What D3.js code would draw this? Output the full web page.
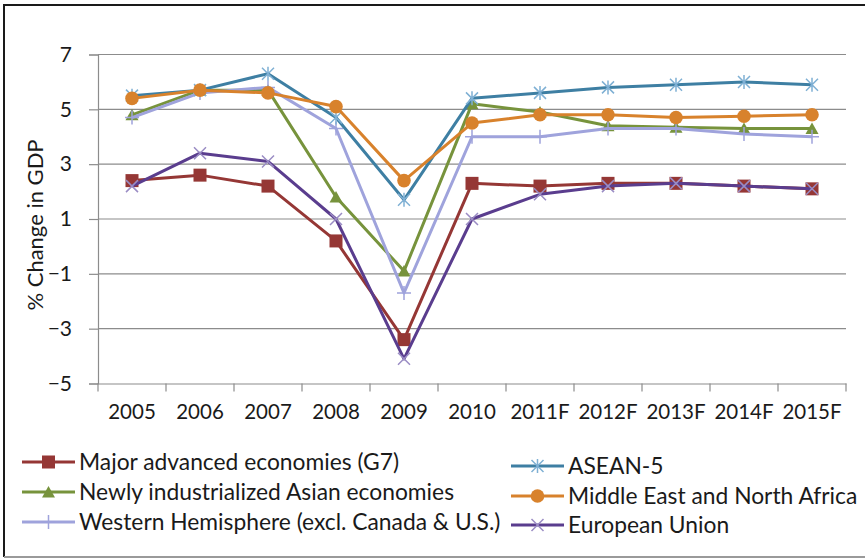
<!DOCTYPE html>
<html><head><meta charset="utf-8">
<script src="https://cdn.jsdelivr.net/npm/d3@7"></script>
<style>
html,body{margin:0;padding:0;background:#fff;}
svg{display:block;font-family:Lato,"Open Sans",sans-serif;}
</style></head>
<body><svg id="c" width="865" height="558"></svg>
<script>
const categories = ["2005","2006","2007","2008","2009","2010","2011F","2012F","2013F","2014F","2015F"];
const yTicks = [-5,-3,-1,1,3,5,7];
const seriesNames = ["Major advanced economies (G7)","Newly industrialized Asian economies","Western Hemisphere (excl. Canada & U.S.)","ASEAN-5","Middle East and North Africa","European Union"];
const g7   = [2.4, 2.6, 2.2, 0.2, -3.4, 2.3, 2.2, 2.3, 2.3, 2.2, 2.1];
const nie  = [4.8, 5.7, 5.7, 1.8, -0.9, 5.2, 4.9, 4.4, 4.35, 4.3, 4.3];
const wh   = [4.7, 5.6, 5.8, 4.3, -1.7, 4.0, 4.0, 4.3, 4.3, 4.1, 4.0];
const asean= [5.5, 5.7, 6.3, 4.7, 1.7, 5.4, 5.6, 5.8, 5.9, 6.0, 5.9];
const mena = [5.4, 5.7, 5.6, 5.1, 2.4, 4.5, 4.8, 4.8, 4.7, 4.75, 4.8];
const eu   = [2.2, 3.4, 3.1, 1.0, -4.1, 1.0, 1.9, 2.2, 2.3, 2.2, 2.1];
const yTitle = "% Change in GDP";

const svg = d3.select("#c");
const L = 98, R = 846, T = 54.5, B = 383.5;
const x = d3.scaleBand().domain(categories).range([L, R]);
const y = d3.scaleLinear().domain([-5, 7]).range([B, T]);

// outer border
svg.append("line").attr("x1",4).attr("x2",865).attr("y1",5).attr("y2",5).attr("stroke","#1a1a1a").attr("stroke-width",2);
svg.append("line").attr("x1",4).attr("x2",4).attr("y1",4).attr("y2",557).attr("stroke","#1a1a1a").attr("stroke-width",2);
svg.append("line").attr("x1",4).attr("x2",865).attr("y1",557).attr("y2",557).attr("stroke","#9a9a9a").attr("stroke-width",2);

// gridlines
svg.append("g").selectAll("line").data(yTicks.filter(d=>d>-5)).join("line")
  .attr("x1",L).attr("x2",R).attr("y1",d=>y(d)).attr("y2",d=>y(d))
  .attr("stroke","#8c8c8c").attr("stroke-width",1.2);

// y axis
const ya = svg.append("g").attr("transform",`translate(${L},0)`)
  .call(d3.axisLeft(y).tickValues(yTicks).tickSize(9).tickPadding(17).tickFormat(d3.format("d")));
ya.select(".domain").attr("stroke","#8c8c8c").attr("stroke-width",1.2);
ya.selectAll(".tick line").attr("stroke","#8c8c8c").attr("stroke-width",1.2);
ya.selectAll("text").attr("font-size",21).attr("fill","#1a1a1a").attr("font-family","Lato");

// x axis
const xa = svg.append("g").attr("transform",`translate(0,${B})`)
  .call(d3.axisBottom(x).tickSize(0).tickPadding(21));
xa.select(".domain").attr("stroke","#8c8c8c").attr("stroke-width",1.2);
xa.selectAll("text").attr("font-size",20.5).attr("fill","#1a1a1a").attr("font-family","Lato");
// boundary ticks
const bounds = categories.map(c=>x(c)).concat([x(categories[categories.length-1])+x.bandwidth()]);
svg.append("g").selectAll("line").data(bounds).join("line")
  .attr("x1",d=>d).attr("x2",d=>d).attr("y1",B).attr("y2",B+8)
  .attr("stroke","#8c8c8c").attr("stroke-width",1.2);

// y title
svg.append("text").attr("transform","translate(43,225) rotate(-90)")
  .attr("text-anchor","middle").attr("font-size",22).attr("fill","#1a1a1a").text(yTitle);

const colors = ["#953735","#77933C","#9fa3dc","#3e7fa3","#d8822c","#5a3d8e"];
const mcolors = ["#953735","#77933C","#9fa3dc","#7fb0d4","#d8822c","#9a8cc4"];
const shapes = ["square","triangle","plus","star","circle","cross"];
const data = [g7, nie, wh, asean, mena, eu];

function drawMarker(g, shape, cx, cy, col) {
  if (shape==="square") g.append("rect").attr("x",cx-6.5).attr("y",cy-6.5).attr("width",13).attr("height",13).attr("fill",col);
  else if (shape==="circle") g.append("circle").attr("cx",cx).attr("cy",cy).attr("r",6.8).attr("fill",col);
  else if (shape==="triangle") g.append("path").attr("d",`M${cx},${cy-6}L${cx+6.5},${cy+5.5}L${cx-6.5},${cy+5.5}Z`).attr("fill",col);
  else if (shape==="plus") g.append("path").attr("d",`M${cx-7},${cy}H${cx+7}M${cx},${cy-7}V${cy+7}`).attr("stroke",col).attr("stroke-width",1.5);
  else if (shape==="cross") g.append("path").attr("d",`M${cx-6},${cy-6}L${cx+6},${cy+6}M${cx-6},${cy+6}L${cx+6},${cy-6}`).attr("stroke",col).attr("stroke-width",1.5);
  else if (shape==="star") g.append("path").attr("d",`M${cx-6},${cy-6}L${cx+6},${cy+6}M${cx-6},${cy+6}L${cx+6},${cy-6}M${cx},${cy-7}V${cy+7}`).attr("stroke",col).attr("stroke-width",1.5);
}

const line = d3.line().x((d,i)=>x(categories[i])+x.bandwidth()/2).y(d=>y(d));
data.forEach((vals, si) => {
  const g = svg.append("g");
  g.append("path").datum(vals).attr("d",line).attr("fill","none")
    .attr("stroke",colors[si]).attr("stroke-width",3).attr("stroke-linejoin","round");
  vals.forEach((v,i)=> drawMarker(g, shapes[si], x(categories[i])+x.bandwidth()/2, y(v), mcolors[si]));
});

// legend
const legPos = [[22,462],[22,492],[22,522],[511,466],[511,496],[511,525]];
seriesNames.forEach((n, si) => {
  const [lx, ly] = legPos[si];
  const g = svg.append("g");
  g.append("line").attr("x1",lx).attr("x2",lx+53).attr("y1",ly).attr("y2",ly).attr("stroke",colors[si]).attr("stroke-width",3);
  drawMarker(g, shapes[si], lx+26.5, ly, mcolors[si]);
  g.append("text").attr("x",lx+57).attr("y",ly).attr("dy","0.35em").attr("font-size",22.8).attr("fill","#1a1a1a").text(n);
});
</script></body></html>
